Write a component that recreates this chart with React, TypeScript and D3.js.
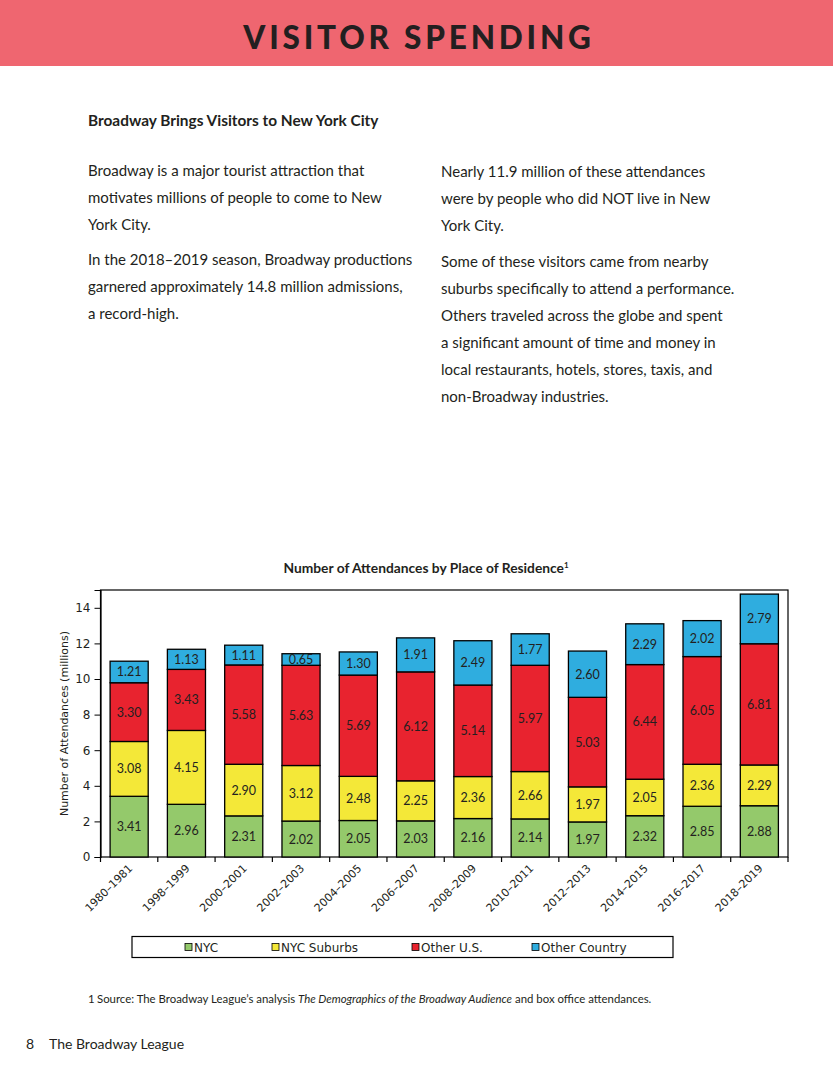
// @ts-nocheck
import React, { useEffect, useRef } from 'react';
import * as d3 from 'd3';

const seasons = ['1980–1981', '1998–1999', '2000–2001', '2002–2003', '2004–2005', '2006–2007',
  '2008–2009', '2010–2011', '2012–2013', '2014–2015', '2016–2017', '2018–2019'];
const nyc = [3.41, 2.96, 2.31, 2.02, 2.05, 2.03, 2.16, 2.14, 1.97, 2.32, 2.85, 2.88];
const nycSuburbs = [3.08, 4.15, 2.90, 3.12, 2.48, 2.25, 2.36, 2.66, 1.97, 2.05, 2.36, 2.29];
const otherUS = [3.30, 3.43, 5.58, 5.63, 5.69, 6.12, 5.14, 5.97, 5.03, 6.44, 6.05, 6.81];
const otherCountry = [1.21, 1.13, 1.11, 0.65, 1.30, 1.91, 2.49, 1.77, 2.60, 2.29, 2.02, 2.79];
const seriesNames = ['NYC', 'NYC Suburbs', 'Other U.S.', 'Other Country'];
const seriesColors = ['#94c96b', '#f4e838', '#e8232f', '#2faddf'];
const yTicks = [0, 2, 4, 6, 8, 10, 12, 14];

const leftText = [
  ['Broadway is a major tourist attraction that', 'motivates millions of people to come to New', 'York City.'],
  ['In the 2018–2019 season, Broadway productions', 'garnered approximately 14.8 million admissions,', 'a record-high.'],
];
const rightText = [
  ['Nearly 11.9 million of these attendances', 'were by people who did NOT live in New', 'York City.'],
  ['Some of these visitors came from nearby', 'suburbs specifically to attend a performance.', 'Others traveled across the globe and spent',
    'a significant amount of time and money in', 'local restaurants, hotels, stores, taxis, and', 'non-Broadway industries.'],
];

const INK = '#231f20';
const BODY_FONT = 'Lato, "Open Sans", sans-serif';
const CHART_FONT = '"DejaVu Sans", sans-serif';

const App = () => {
  const ref = useRef(null);

  useEffect(() => {
    const svg = d3.select(ref.current);
    svg.selectAll('*').remove();

    // cabecera
    svg.append('rect').attr('x', 0).attr('y', 0).attr('width', 833).attr('height', 66).attr('fill', '#ef6670');
    svg.append('text').attr('x', 419).attr('y', 49).attr('text-anchor', 'middle')
      .style('font-family', BODY_FONT).style('font-weight', 900).style('font-size', '31.5px')
      .style('letter-spacing', '3.8px').attr('fill', INK).text('VISITOR SPENDING');

    svg.append('text').attr('x', 88).attr('y', 126)
      .style('font-family', BODY_FONT).style('font-weight', 700).style('font-size', '15.4px')
      .attr('fill', INK).text('Broadway Brings Visitors to New York City');

    const para = (blocks, x, starts) => {
      blocks.forEach((lines, b) => {
        lines.forEach((line, i) => {
          svg.append('text').attr('x', x).attr('y', starts[b] + i * 27)
            .style('font-family', BODY_FONT).style('font-size', '15px')
            .attr('fill', INK).text(line);
        });
      });
    };
    para(leftText, 88, [176, 265]);
    para(rightText, 441, [177, 267]);

    // gráfico
    const x0 = 100.5, x1 = 788, yTop = 590, yBot = 857;
    const x = d3.scaleBand().domain(seasons).range([x0, x1]).paddingInner(0.335).paddingOuter(0.1675);
    const y = d3.scaleLinear().domain([0, 15]).range([yBot, yTop]);

    const rows = seasons.map((s, i) => ({ season: s, nyc: nyc[i], sub: nycSuburbs[i], us: otherUS[i], oc: otherCountry[i] }));
    const keys = ['nyc', 'sub', 'us', 'oc'];
    const stacked = d3.stack().keys(keys)(rows);

    svg.append('text').attr('x', 426).attr('y', 573).attr('text-anchor', 'middle')
      .style('font-family', BODY_FONT).style('font-weight', 700).style('font-size', '13.8px').attr('fill', INK)
      .text('Number of Attendances by Place of Residence')
      .append('tspan').attr('dy', -5).style('font-size', '8px').text('1');

    // marco
    svg.append('rect').attr('x', x0).attr('y', yTop).attr('width', x1 - x0).attr('height', yBot - yTop)
      .attr('fill', 'none').attr('stroke', '#000').attr('stroke-width', 1.2);

    const layers = svg.append('g').selectAll('g').data(stacked).enter().append('g')
      .attr('fill', (d, i) => seriesColors[i]);
    layers.selectAll('rect').data((d) => d).enter().append('rect')
      .attr('x', (d) => x(d.data.season))
      .attr('width', x.bandwidth())
      .attr('y', (d) => y(d[1]))
      .attr('height', (d) => y(d[0]) - y(d[1]))
      .attr('stroke', '#000').attr('stroke-width', 1.3);

    layers.selectAll('text').data((d) => d).enter().append('text')
      .attr('x', (d) => x(d.data.season) + x.bandwidth() / 2)
      .attr('y', (d) => y((d[0] + d[1]) / 2) + 4.5)
      .attr('text-anchor', 'middle')
      .style('font-family', BODY_FONT).style('font-size', '12.5px').attr('fill', INK)
      .text((d) => (d[1] - d[0]).toFixed(2));

    // eje Y
    const yAxis = svg.append('g').attr('transform', `translate(${x0},0)`)
      .call(d3.axisLeft(y).tickValues(yTicks).tickSize(6).tickPadding(4));
    yAxis.select('.domain').attr('stroke', '#000').attr('stroke-width', 1.2);
    yAxis.selectAll('line').attr('stroke', '#000');
    yAxis.selectAll('text').style('font-family', CHART_FONT).style('font-size', '12px').attr('fill', INK);

    svg.append('text')
      .attr('transform', `translate(68,${(yTop + yBot) / 2}) rotate(-90)`)
      .attr('text-anchor', 'middle')
      .style('font-family', CHART_FONT).style('font-size', '11px').attr('fill', INK)
      .text('Number of Attendances (millions)');

    // eje X
    const xg = svg.append('g');
    const bounds = seasons.map((s) => x(s) - x.step() * x.paddingInner() / 2).concat([x1]);
    xg.selectAll('line').data(bounds).enter().append('line')
      .attr('x1', (d) => d).attr('x2', (d) => d).attr('y1', yBot).attr('y2', yBot + 5)
      .attr('stroke', '#000').attr('stroke-width', 1.2);
    xg.selectAll('text').data(seasons).enter().append('text')
      .attr('transform', (d) => `translate(${x(d) + x.bandwidth() / 2 + 4},${yBot + 12}) rotate(-45)`)
      .attr('text-anchor', 'end')
      .style('font-family', CHART_FONT).style('font-size', '11px').attr('fill', INK)
      .text((d) => d);

    // leyenda
    svg.append('rect').attr('x', 132).attr('y', 936.5).attr('width', 541).attr('height', 21)
      .attr('fill', '#fff').attr('stroke', '#000').attr('stroke-width', 1.2);
    const legendX = [185, 272, 412, 532];
    seriesNames.forEach((name, i) => {
      svg.append('rect').attr('x', legendX[i]).attr('y', 943.5).attr('width', 7).attr('height', 7)
        .attr('fill', seriesColors[i]).attr('stroke', '#000').attr('stroke-width', 0.8);
      svg.append('text').attr('x', legendX[i] + 9).attr('y', 951.5)
        .style('font-family', CHART_FONT).style('font-size', '12px').attr('fill', INK).text(name);
    });

    // nota
    svg.append('text').attr('x', 88).attr('y', 1003)
      .style('font-family', BODY_FONT).style('font-size', '11.4px').attr('fill', INK).text('1');
    const note = svg.append('text').attr('x', 97).attr('y', 1003)
      .style('font-family', BODY_FONT).style('font-size', '11.4px').attr('fill', INK);
    note.append('tspan').text('Source: The Broadway League’s analysis ');
    note.append('tspan').style('font-style', 'italic').text('The Demographics of the Broadway Audience');
    note.append('tspan').text(' and box office attendances.');

    svg.append('text').attr('x', 26).attr('y', 1049)
      .style('font-family', BODY_FONT).style('font-size', '14px').attr('fill', INK)
      .text('8');
    svg.append('text').attr('x', 49).attr('y', 1049)
      .style('font-family', BODY_FONT).style('font-size', '14px').attr('fill', INK)
      .text('The Broadway League');
  }, []);

  return <svg ref={ref} width={833} height={1080} style={{ position: 'absolute', left: 0, top: 0, background: '#fff' }}></svg>;
};

export default App;
